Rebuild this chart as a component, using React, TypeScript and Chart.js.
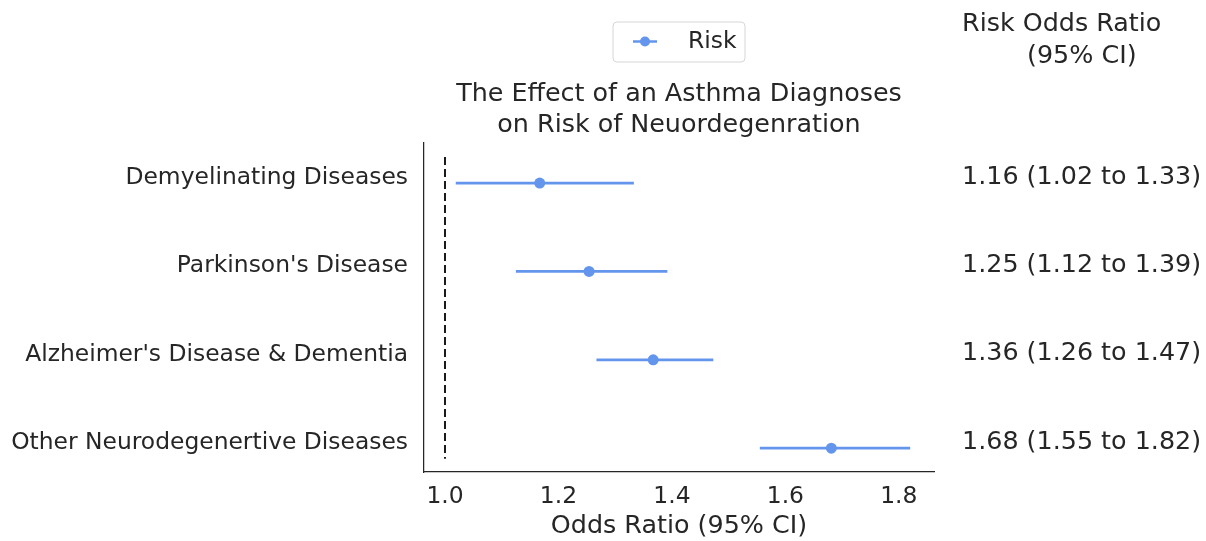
import React, { useEffect, useRef } from "react";
import { Chart, registerables } from "chart.js";

Chart.register(...registerables);

const categories = [
  "Demyelinating Diseases",
  "Parkinson's Disease",
  "Alzheimer's Disease & Dementia",
  "Other Neurodegenertive Diseases",
];
const oddsRatio = [1.167, 1.254, 1.367, 1.681];
const ciLower = [1.019, 1.125, 1.267, 1.555];
const ciUpper = [1.333, 1.392, 1.473, 1.82];
const ciText = [
  "1.16 (1.02 to 1.33)",
  "1.25 (1.12 to 1.39)",
  "1.36 (1.26 to 1.47)",
  "1.68 (1.55 to 1.82)",
];
const xTicks = [1.0, 1.2, 1.4, 1.6, 1.8];
const refLineX = [1.0, 1.0];
const refLineY = [-0.215, 3.2];
const pointOffset = 0.08;

const TEXT = "#262626";
const BLUE = "#6495ED";
const FONT = "'DejaVu Sans', sans-serif";
const TICK_SIZE = 23.4;
const BIG_SIZE = 25.4;

const overlayPlugin = {
  id: "overlay",
  afterDraw(chart: any) {
    const ctx = chart.ctx;
    const area = chart.chartArea;
    const y = chart.scales.y;
    ctx.save();
    ctx.fillStyle = TEXT;
    ctx.font = `${BIG_SIZE}px ${FONT}`;
    ctx.textBaseline = "middle";
    // title
    ctx.textAlign = "center";
    const cx = (area.left + area.right) / 2;
    ctx.fillText("The Effect of an Asthma Diagnoses", cx, 94);
    ctx.fillText("on Risk of Neuordegenration", cx, 125);
    // right column header
    ctx.textAlign = "left";
    ctx.fillText("Risk Odds Ratio", 962, 24);
    ctx.fillText("(95% CI)", 1027, 56);
    // right column values
    ciText.forEach((txt, i) => {
      ctx.fillText(txt, 962, y.getPixelForValue(i) + 1);
    });
    // legend
    const lx = 613, ly = 22, lw = 132, lh = 40, r = 4;
    ctx.beginPath();
    ctx.moveTo(lx + r, ly);
    ctx.arcTo(lx + lw, ly, lx + lw, ly + lh, r);
    ctx.arcTo(lx + lw, ly + lh, lx, ly + lh, r);
    ctx.arcTo(lx, ly + lh, lx, ly, r);
    ctx.arcTo(lx, ly, lx + lw, ly, r);
    ctx.closePath();
    ctx.fillStyle = "rgba(255,255,255,0.8)";
    ctx.fill();
    ctx.strokeStyle = "#d6d6d6";
    ctx.lineWidth = 1;
    ctx.stroke();
    ctx.strokeStyle = BLUE;
    ctx.lineWidth = 2.5;
    ctx.beginPath();
    ctx.moveTo(633, 41.5);
    ctx.lineTo(657, 41.5);
    ctx.stroke();
    ctx.fillStyle = BLUE;
    ctx.beginPath();
    ctx.arc(645, 41.5, 5, 0, Math.PI * 2);
    ctx.fill();
    ctx.fillStyle = TEXT;
    ctx.font = `${TICK_SIZE}px ${FONT}`;
    ctx.fillText("Risk", 688, 42);
    ctx.restore();
  },
};

export default function App() {
  const ref = useRef<HTMLCanvasElement>(null);
  useEffect(() => {
    const ciSets = categories.map((_, i) => ({
      label: "ci" + i,
      data: [
        { x: ciLower[i], y: i + pointOffset },
        { x: ciUpper[i], y: i + pointOffset },
      ],
      showLine: true,
      borderColor: BLUE,
      borderWidth: 2.7,
      pointRadius: 0,
    }));
    const chart = new Chart(ref.current as HTMLCanvasElement, {
      type: "scatter",
      data: {
        datasets: [
          {
            label: "Risk",
            data: oddsRatio.map((v, i) => ({ x: v, y: i + pointOffset })),
            backgroundColor: BLUE,
            borderColor: BLUE,
            pointRadius: 5.5,
            pointBorderWidth: 0,
          },
          ...ciSets,
          {
            label: "ref",
            data: refLineX.map((v, i) => ({ x: v, y: refLineY[i] })),
            showLine: true,
            borderColor: "#1a1a1a",
            borderWidth: 2,
            borderDash: [8, 4],
            pointRadius: 0,
          },
        ],
      } as any,
      options: {
        animation: false,
        responsive: false,
        layout: { padding: { left: 0, right: 272, top: 143, bottom: 0 } },
        plugins: { legend: { display: false }, tooltip: { enabled: false }, title: { display: false } },
        scales: {
          x: {
            type: "linear",
            min: 0.963,
            max: 1.862,
            grid: { display: false, drawTicks: false },
            border: { display: true, color: TEXT, width: 1.25 },
            afterBuildTicks: (s: any) => {
              s.ticks = xTicks.map((v) => ({ value: v }));
            },
            afterFit: (s: any) => {
              s.height = 69;
            },
            ticks: {
              color: TEXT,
              font: { family: FONT, size: TICK_SIZE },
              padding: 11,
              callback: (v: any) => Number(v).toFixed(1),
            },
            title: {
              display: true,
              text: "Odds Ratio (95% CI)",
              color: TEXT,
              font: { family: FONT, size: BIG_SIZE, lineHeight: 1.0 },
              padding: { top: 2, bottom: 2 },
            },
          },
          y: {
            type: "linear",
            reverse: true,
            min: -0.374,
            max: 3.35,
            grid: { display: false, drawTicks: false },
            border: { display: true, color: TEXT, width: 1.25 },
            afterBuildTicks: (s: any) => {
              s.ticks = categories.map((_, i) => ({ value: i }));
            },
            afterFit: (s: any) => {
              s.width = 424;
            },
            ticks: {
              color: TEXT,
              font: { family: FONT, size: TICK_SIZE },
              padding: 16,
              labelOffset: 2,
              callback: (v: any) => categories[Math.round(Number(v))] ?? "",
            },
          },
        },
      } as any,
      plugins: [overlayPlugin],
    });
    return () => chart.destroy();
  }, []);
  return (
    <div style={{ position: "fixed", left: 0, top: 0, width: 1206, height: 541, background: "#fff" }}>
      <canvas ref={ref} width={1206} height={541} style={{ width: 1206, height: 541 }} />
    </div>
  );
}
